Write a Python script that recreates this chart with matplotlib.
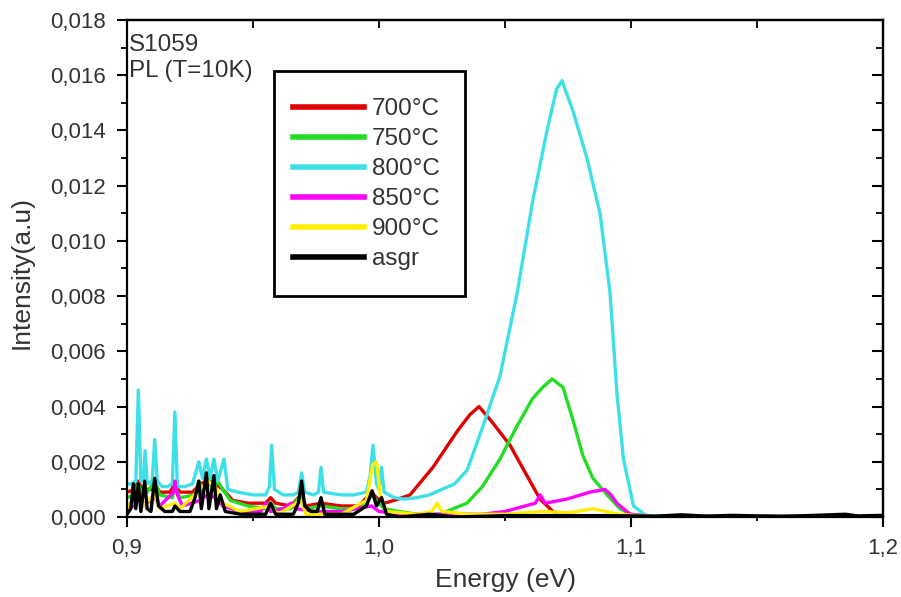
import matplotlib
matplotlib.use("Agg")
import matplotlib.pyplot as plt
from matplotlib.ticker import MultipleLocator, FuncFormatter
from matplotlib.patches import Rectangle

plt.rcParams['font.family'] = ['Liberation Sans', 'DejaVu Sans']

labels = ["700°C", "750°C", "800°C", "850°C", "900°C", "asgr"]
colors = ["#e00000", "#22dd22", "#3ee0e8", "#ff00ff", "#ffee00", "#000000"]

e_700 = [0.900, 0.903, 0.9045, 0.906, 0.910, 0.911, 0.913, 0.917, 0.919, 0.921, 0.926, 0.929, 0.932, 0.935,
         0.938, 0.942, 0.948, 0.955, 0.957, 0.959, 0.965, 0.969, 0.971, 0.977, 0.985, 0.992, 0.997, 0.999,
         1.002, 1.006, 1.0123, 1.0214, 1.031, 1.036, 1.0397, 1.0452, 1.052, 1.0587, 1.0639, 1.069, 1.075, 1.2]
i_700 = [0.0009, 0.0010, 0.0013, 0.0010, 0.0010, 0.0012, 0.0009, 0.0009, 0.0012, 0.0009, 0.0009, 0.0012,
         0.0013, 0.0012, 0.0010, 0.0006, 0.0005, 0.0005, 0.0007, 0.0005, 0.0004, 0.0008, 0.0004, 0.0005,
         0.0004, 0.0004, 0.0009, 0.0007, 0.0005, 0.0006, 0.0008, 0.0018, 0.0031, 0.0037, 0.0040, 0.0034,
         0.0026, 0.0015, 0.00065, 0.0002, 0.00005, 0.0]

e_750 = [0.900, 0.903, 0.9045, 0.906, 0.908, 0.911, 0.913, 0.918, 0.919, 0.921, 0.927, 0.9285, 0.930, 0.932,
         0.934, 0.936, 0.938, 0.941, 0.948, 0.955, 0.957, 0.959, 0.965, 0.969, 0.971, 0.977, 0.985, 0.993,
         0.997, 0.999, 1.002, 1.008, 1.015, 1.024, 1.0349, 1.041, 1.048, 1.0548, 1.061, 1.065, 1.0687, 1.073,
         1.077, 1.081, 1.0849, 1.0905, 1.0956, 1.100, 1.11, 1.2]
i_750 = [0.0007, 0.0008, 0.0012, 0.0008, 0.0009, 0.0013, 0.0008, 0.0007, 0.0011, 0.0007, 0.0008, 0.0013,
         0.0009, 0.0014, 0.0010, 0.0013, 0.0010, 0.0006, 0.0004, 0.0003, 0.0005, 0.0003, 0.0003, 0.0008,
         0.0003, 0.0004, 0.0003, 0.0003, 0.0008, 0.0006, 0.0003, 0.0002, 0.0001, 0.0001, 0.0005, 0.0011,
         0.0021, 0.0033, 0.0043, 0.0047, 0.0050, 0.0047, 0.0035, 0.0022, 0.0014, 0.0008, 0.0003, 0.0001,
         0.00003, 0.0]

e_800 = [0.900, 0.902, 0.9035, 0.9045, 0.9055, 0.9065, 0.9072, 0.908, 0.910, 0.911, 0.912, 0.914, 0.916,
         0.918, 0.919, 0.920, 0.923, 0.926, 0.9285, 0.930, 0.9315, 0.933, 0.9345, 0.936, 0.9385, 0.940,
         0.944, 0.950, 0.955, 0.9565, 0.9574, 0.9585, 0.962, 0.966, 0.968, 0.9693, 0.9705, 0.974, 0.976,
         0.977, 0.978, 0.985, 0.990, 0.995, 0.9965, 0.9976, 0.999, 1.000, 1.001, 1.002, 1.006, 1.010, 1.015,
         1.020, 1.025, 1.030, 1.035, 1.0413, 1.048, 1.0548, 1.0611, 1.0667, 1.0705, 1.0726, 1.077, 1.0825,
         1.0877, 1.0917, 1.0944, 1.097, 1.101, 1.106, 1.12, 1.2]
i_800 = [0.0012, 0.0012, 0.0013, 0.0046, 0.0013, 0.0014, 0.0024, 0.0012, 0.0013, 0.0028, 0.0013, 0.0011,
         0.0011, 0.0012, 0.0038, 0.0011, 0.0011, 0.0012, 0.0020, 0.0014, 0.0021, 0.0014, 0.0021, 0.0013,
         0.0021, 0.0010, 0.0009, 0.0008, 0.0008, 0.0011, 0.0026, 0.0010, 0.0008, 0.0008, 0.0009, 0.0016,
         0.0009, 0.0008, 0.0009, 0.0018, 0.0009, 0.0008, 0.0008, 0.0009, 0.0015, 0.0026, 0.0012, 0.0010,
         0.0018, 0.0009, 0.0007, 0.00065, 0.0007, 0.0008, 0.0010, 0.0012, 0.0017, 0.0033, 0.0051, 0.0081,
         0.0115, 0.0140, 0.0155, 0.0158, 0.0147, 0.0130, 0.0110, 0.0081, 0.0045, 0.0021, 0.0004, 0.00005,
         0.00002, 0.0]

e_850 = [0.900, 0.903, 0.9045, 0.906, 0.911, 0.913, 0.9185, 0.919, 0.920, 0.922, 0.929, 0.932, 0.935, 0.938,
         0.945, 0.953, 0.955, 0.957, 0.962, 0.965, 0.967, 0.975, 0.985, 0.997, 1.000, 1.010, 1.030, 1.041,
         1.050, 1.058, 1.062, 1.064, 1.066, 1.0746, 1.0837, 1.0897, 1.092, 1.0944, 1.0996, 1.11, 1.2]
i_850 = [0.0003, 0.0004, 0.0008, 0.0004, 0.0007, 0.0004, 0.0009, 0.0013, 0.0008, 0.0004, 0.0006, 0.0008,
         0.0007, 0.0004, 0.0002, 0.0002, 0.0005, 0.0002, 0.0003, 0.0005, 0.0003, 0.0002, 0.0002, 0.0004,
         0.0002, 0.0001, 0.0001, 0.0001, 0.0002, 0.0004, 0.0005, 0.0008, 0.0005, 0.00065, 0.0009, 0.0010,
         0.0008, 0.0005, 0.0001, 0.0, 0.0]

e_900 = [0.900, 0.9045, 0.906, 0.911, 0.913, 0.919, 0.921, 0.929, 0.932, 0.935, 0.938, 0.945, 0.957, 0.960,
         0.969, 0.971, 0.985, 0.995, 0.9975, 0.999, 1.0005, 1.003, 1.015, 1.021, 1.023, 1.025, 1.035, 1.050,
         1.065, 1.075, 1.085, 1.095, 1.11, 1.2]
i_900 = [0.0003, 0.0010, 0.0004, 0.0008, 0.0003, 0.0005, 0.0003, 0.0010, 0.0013, 0.0011, 0.0005, 0.0002,
         0.0004, 0.0001, 0.0006, 0.0001, 0.0001, 0.0006, 0.0019, 0.0020, 0.0008, 0.0002, 0.0001, 0.0002,
         0.0005, 0.0002, 0.0001, 0.0001, 0.0002, 0.00015, 0.0003, 0.0001, 0.0, 0.0]

e_asgr = [0.900, 0.9015, 0.9025, 0.9035, 0.9045, 0.9055, 0.907, 0.908, 0.9095, 0.911, 0.9125, 0.915, 0.918,
          0.919, 0.921, 0.925, 0.927, 0.9285, 0.9295, 0.9315, 0.9325, 0.9345, 0.9355, 0.937, 0.939, 0.945,
          0.952, 0.955, 0.957, 0.959, 0.966, 0.968, 0.9693, 0.9705, 0.973, 0.9755, 0.977, 0.9785, 0.985,
          0.990, 0.995, 0.9973, 0.999, 1.001, 1.003, 1.008, 1.02, 1.03, 1.05, 1.09, 1.11, 1.12, 1.13, 1.14,
          1.15, 1.16, 1.17, 1.185, 1.19, 1.2]
i_asgr = [0.0001, 0.0003, 0.0012, 0.0003, 0.0012, 0.0002, 0.0013, 0.0003, 0.0002, 0.0014, 0.0004, 0.0002,
          0.0002, 0.0004, 0.0002, 0.0002, 0.0007, 0.0013, 0.0003, 0.0016, 0.0003, 0.0015, 0.0003, 0.0008,
          0.0002, 0.0001, 0.0001, 0.0001, 0.0005, 0.0001, 0.0001, 0.0005, 0.0013, 0.0004, 0.0002, 0.0002,
          0.0007, 0.0001, 0.0001, 0.0001, 0.0004, 0.00095, 0.0004, 0.0007, 0.0001, 0.0, 0.0001, 0.0, 0.00005,
          0.00005, 0.00003, 0.00008, 0.00003, 0.00006, 0.00004, 0.00003, 0.00005, 0.0001, 0.00004, 0.00006]

series_e = [e_700, e_750, e_800, e_850, e_900, e_asgr]
series_i = [i_700, i_750, i_800, i_850, i_900, i_asgr]

fig = plt.figure(figsize=(9.01, 5.97), dpi=100)
ax = fig.add_axes([127/901, 80/597, 756/901, 497/597])

for e, i, c, lab in zip(series_e, series_i, colors, labels):
    ax.plot(e, i, color=c, lw=2.4, label=lab, solid_joinstyle='round')

ax.set_xlim(0.9, 1.2)
ax.set_ylim(0.0, 0.018)

ax.xaxis.set_major_locator(MultipleLocator(0.1))
ax.xaxis.set_minor_locator(MultipleLocator(0.05))
ax.yaxis.set_major_locator(MultipleLocator(0.002))
ax.yaxis.set_minor_locator(MultipleLocator(0.001))
ax.xaxis.set_major_formatter(FuncFormatter(lambda v, p: f"{v:.1f}".replace('.', ',')))
ax.yaxis.set_major_formatter(FuncFormatter(lambda v, p: f"{v:.3f}".replace('.', ',')))

for s in ax.spines.values():
    s.set_linewidth(1.6)

tc = '#333333'
ax.tick_params(axis='x', which='major', bottom=True, top=False, direction='out', length=7, width=1.5,
               labelsize=16, labelcolor=tc, pad=8)
ax.tick_params(axis='x', which='minor', bottom=True, top=False, direction='out', length=3, width=1.3)
ax.tick_params(axis='y', which='major', left=True, right=False, direction='out', length=7, width=1.5,
               labelsize=16, labelcolor=tc, pad=8)
ax.tick_params(axis='y', which='minor', left=True, right=False, direction='out', length=4, width=1.3)

# mirrored inward ticks on top and right
axt = ax.secondary_xaxis('top')
axt.xaxis.set_major_locator(MultipleLocator(0.05))
axt.tick_params(direction='in', length=6, width=1.3, labeltop=False)
axr = ax.secondary_yaxis('right')
axr.yaxis.set_major_locator(MultipleLocator(0.002))
axr.yaxis.set_minor_locator(MultipleLocator(0.001))
axr.tick_params(which='major', direction='in', length=8, width=1.5, labelright=False)
axr.tick_params(which='minor', direction='in', length=5, width=1.3)
axt.spines['top'].set_linewidth(1.6)
axr.spines['right'].set_linewidth(1.6)

fig.text(505/901, 1 - 580/597, "Energy (eV)", ha='center', va='center', fontsize=19, color=tc)
fig.text(22/901, 1 - 272/597, "Intensity(a.u)", ha='center', va='center', rotation=90, fontsize=19, color=tc)

ax.text(0.002, 0.950, "S1059", transform=ax.transAxes, ha='left', va='center', fontsize=17.5, color=tc)
ax.text(0.002, 0.898, "PL (T=10K)", transform=ax.transAxes, ha='left', va='center', fontsize=17.5, color=tc)

leg = ax.legend(loc='upper left', bbox_to_anchor=(0.2196, 0.843), frameon=False, fontsize=17.5,
                handlelength=2.9, handletextpad=0.33, labelspacing=0.33, borderpad=0, borderaxespad=0)
for t in leg.get_texts():
    t.set_color(tc)
for h in leg.get_lines():
    h.set_linewidth(4)

ax.add_patch(Rectangle((0.194, 0.444), 0.253, 0.454, transform=ax.transAxes, fill=False,
                       lw=2.0, edgecolor='black', zorder=5, clip_on=False))

fig.savefig("out.png", dpi=100)
